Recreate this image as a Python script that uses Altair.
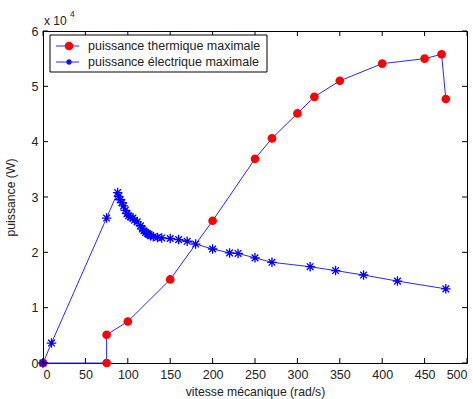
import altair as alt
import pandas as pd

# Puissance thermique maximale (W) en fonction de la vitesse (rad/s)
therm_v = [0, 75, 75, 100, 150, 200, 250, 270, 300, 320, 350, 400, 450, 470, 475]
therm_p = [0, 0, 5100, 7500, 15100, 25700, 36900, 40600, 45100, 48100, 51000, 54100, 55000, 55800, 47700]

# Puissance électrique maximale (W)
elec_v = [0, 10, 75, 88, 89, 91, 93, 95, 97, 99, 101, 103, 106, 108, 111, 115, 117, 119,
          121, 123, 125, 127, 130, 135, 140, 150, 160, 170, 180, 200, 220, 230, 250, 270,
          315, 345, 378, 418, 475]
elec_p = [0, 3600, 26200, 30800, 30100, 29500, 29000, 28400, 27600, 27000, 26600, 26400,
          26200, 25800, 25500, 24800, 24200, 23900, 23600, 23400, 23200, 23000, 22800,
          22700, 22600, 22500, 22300, 22000, 21500, 20600, 19900, 19800, 19000, 18200,
          17400, 16700, 15900, 14800, 13400]

x_ticks = [0, 50, 100, 150, 200, 250, 300, 350, 400, 450, 500]
y_ticks = [0, 10000, 20000, 30000, 40000, 50000, 60000]

W, H = 424, 332
BLUE = "#2a2aff"
FONT = "Liberation Sans"
STAR = "M-1,0L1,0M0,-1L0,1M-0.7,-0.7L0.7,0.7M-0.7,0.7L0.7,-0.7"

xs = alt.Scale(domain=[0, 500], nice=False, zero=False)
ys = alt.Scale(domain=[0, 60000], nice=False, zero=False)

therm = pd.DataFrame({"v": therm_v, "p": therm_p, "i": range(len(therm_v))})
elec = pd.DataFrame({"v": elec_v, "p": elec_p, "i": range(len(elec_v))})

X = alt.X("v:Q", scale=xs, title="vitesse mécanique (rad/s)",
          axis=alt.Axis(values=x_ticks, labelPadding=5, titlePadding=5))
Y = alt.Y("p:Q", scale=ys, title="puissance (W)",
          axis=alt.Axis(values=y_ticks, labelExpr="datum.value / 10000",
                        labelPadding=5, titlePadding=14))

therm_line = alt.Chart(therm).mark_line(color=BLUE, strokeWidth=1).encode(x=X, y=Y, order="i:Q")
therm_pts = alt.Chart(therm).mark_point(shape="circle", filled=True, color="#ff0000",
                                        size=75, opacity=1).encode(x=X, y=Y)
elec_line = alt.Chart(elec).mark_line(color=BLUE, strokeWidth=1).encode(x=X, y=Y, order="i:Q")
elec_pts = alt.Chart(elec).mark_point(shape=STAR, filled=False, color="#0000ff",
                                      size=90, strokeWidth=1.3, opacity=1).encode(x=X, y=Y)

# inward ticks on all four sides of the box
xt = pd.DataFrame({"v": x_ticks})
yt = pd.DataFrame({"p": y_ticks})
tick_style = dict(color="black", strokeWidth=1)
xb = alt.Chart(xt).mark_rule(**tick_style).encode(
    x=alt.X("v:Q", scale=xs), y=alt.value(H), y2=alt.value(H - 5))
xtop = alt.Chart(xt).mark_rule(**tick_style).encode(
    x=alt.X("v:Q", scale=xs), y=alt.value(0), y2=alt.value(5))
yl = alt.Chart(yt).mark_rule(**tick_style).encode(
    y=alt.Y("p:Q", scale=ys), x=alt.value(0), x2=alt.value(5))
yr = alt.Chart(yt).mark_rule(**tick_style).encode(
    y=alt.Y("p:Q", scale=ys), x=alt.value(W), x2=alt.value(W - 5))

# legend box
one = pd.DataFrame({"k": [0]})
leg_box = alt.Chart(one).mark_rect(fill="white", stroke="black", strokeWidth=1).encode(
    x=alt.value(7), x2=alt.value(224), y=alt.value(4), y2=alt.value(41))
leg = pd.DataFrame({
    "label": ["puissance thermique maximale", "puissance électrique maximale"],
    "yy": [15, 31],
})
leg_lines = alt.Chart(leg).mark_rule(color=BLUE, strokeWidth=1).encode(
    x=alt.value(13), x2=alt.value(36), y=alt.Y("yy:Q", scale=None))
leg_c = alt.Chart(leg.iloc[[0]]).mark_point(shape="circle", filled=True, color="#ff0000",
                                            size=75, opacity=1).encode(
    x=alt.value(26), y=alt.Y("yy:Q", scale=None))
leg_s = alt.Chart(leg.iloc[[1]]).mark_point(shape=STAR, filled=False, color="#0000ff",
                                            size=36, strokeWidth=1.2, opacity=1).encode(
    x=alt.value(26), y=alt.Y("yy:Q", scale=None))
leg_t = alt.Chart(leg).mark_text(align="left", baseline="middle", font=FONT, fontSize=12.5,
                                 color="#222222").encode(
    x=alt.value(45), y=alt.Y("yy:Q", scale=None), text="label:N")

# exponent of the y axis
exp_t = alt.Chart(one).mark_text(align="left", baseline="alphabetic", font=FONT, fontSize=12,
                                 color="#222222").encode(
    x=alt.value(1), y=alt.value(-6), text=alt.value("x 10"))
exp_s = alt.Chart(one).mark_text(align="left", baseline="alphabetic", font=FONT, fontSize=8.5,
                                 color="#222222").encode(
    x=alt.value(27), y=alt.value(-14), text=alt.value("4"))

chart = alt.layer(
    therm_line, elec_line, therm_pts, elec_pts,
    xb, xtop, yl, yr,
    leg_box, leg_lines, leg_c, leg_s, leg_t, exp_t, exp_s,
).properties(
    width=W, height=H,
    autosize=alt.AutoSizeParams(type="none"),
    padding={"left": 43, "top": 31, "right": 6, "bottom": 36},
    background="white",
).configure_view(
    stroke="black", strokeWidth=1,
).configure_axis(
    grid=False, domain=False, ticks=False,
    labelFont=FONT, labelFontSize=12.5, labelColor="#222222",
    titleFont=FONT, titleFontSize=12.2, titleFontWeight="normal", titleColor="#222222",
)

chart.save("out.html", embed_options={"renderer": "svg", "actions": False})
